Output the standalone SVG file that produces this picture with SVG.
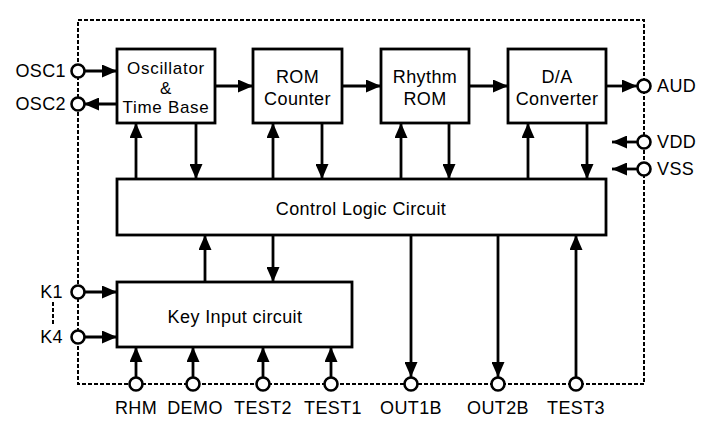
<svg xmlns="http://www.w3.org/2000/svg" width="705" height="423" viewBox="0 0 705 423">
<style>
.box{fill:#fff;stroke:#000;stroke-width:2.8}
.pin{fill:#fff;stroke:#000;stroke-width:2.6}
.wire{fill:none;stroke:#000;stroke-width:2.8}
.dash{fill:none;stroke:#000;stroke-width:2;stroke-dasharray:4 2}
text{font-family:"Liberation Sans",Arial,sans-serif;font-size:18px;fill:#000;letter-spacing:0.4px}
.s{font-size:17px;letter-spacing:0.7px}
.c{text-anchor:middle}
.e{text-anchor:end}
</style>
<defs>
<marker id="ah" markerUnits="userSpaceOnUse" markerWidth="15" markerHeight="13" refX="15" refY="6.5" orient="auto" viewBox="0 0 15 13">
<path d="M0,0 L15,6.5 L0,13 z" fill="#000"/>
</marker>
</defs>
<rect width="705" height="423" fill="#fff"/>
<g id="border">
<rect class="dash" x="78" y="20" width="566" height="364"/>
<line class="dash" x1="53" y1="302" x2="53" y2="326"/>
</g>
<g id="connectors">
<line class="wire" x1="84" y1="71" x2="117" y2="71" marker-end="url(#ah)"/>
<line class="wire" x1="117" y1="104" x2="84" y2="104" marker-end="url(#ah)"/>
<line class="wire" x1="215" y1="86" x2="253" y2="86" marker-end="url(#ah)"/>
<line class="wire" x1="342" y1="86" x2="381" y2="86" marker-end="url(#ah)"/>
<line class="wire" x1="469" y1="86" x2="508" y2="86" marker-end="url(#ah)"/>
<line class="wire" x1="606" y1="86" x2="637" y2="86" marker-end="url(#ah)"/>
<line class="wire" x1="637" y1="142" x2="612" y2="142" marker-end="url(#ah)"/>
<line class="wire" x1="637" y1="169" x2="612" y2="169" marker-end="url(#ah)"/>
<line class="wire" x1="136" y1="179" x2="136" y2="123" marker-end="url(#ah)"/>
<line class="wire" x1="196" y1="123" x2="196" y2="179" marker-end="url(#ah)"/>
<line class="wire" x1="273" y1="179" x2="273" y2="123" marker-end="url(#ah)"/>
<line class="wire" x1="322" y1="123" x2="322" y2="179" marker-end="url(#ah)"/>
<line class="wire" x1="401" y1="179" x2="401" y2="123" marker-end="url(#ah)"/>
<line class="wire" x1="449" y1="123" x2="449" y2="179" marker-end="url(#ah)"/>
<line class="wire" x1="528" y1="179" x2="528" y2="123" marker-end="url(#ah)"/>
<line class="wire" x1="587" y1="123" x2="587" y2="179" marker-end="url(#ah)"/>
<line class="wire" x1="205" y1="282" x2="205" y2="235" marker-end="url(#ah)"/>
<line class="wire" x1="273" y1="235" x2="273" y2="282" marker-end="url(#ah)"/>
<line class="wire" x1="411" y1="235" x2="411" y2="377" marker-end="url(#ah)"/>
<line class="wire" x1="498" y1="235" x2="498" y2="377" marker-end="url(#ah)"/>
<line class="wire" x1="576" y1="377" x2="576" y2="235" marker-end="url(#ah)"/>
<line class="wire" x1="84" y1="292" x2="117" y2="292" marker-end="url(#ah)"/>
<line class="wire" x1="84" y1="337" x2="117" y2="337" marker-end="url(#ah)"/>
<line class="wire" x1="136" y1="377" x2="136" y2="347" marker-end="url(#ah)"/>
<line class="wire" x1="193" y1="377" x2="193" y2="347" marker-end="url(#ah)"/>
<line class="wire" x1="263" y1="377" x2="263" y2="347" marker-end="url(#ah)"/>
<line class="wire" x1="331" y1="377" x2="331" y2="347" marker-end="url(#ah)"/>
</g>
<g id="osc">
<rect class="box" x="117" y="49" width="98" height="74"/>
<text class="c s" x="166" y="74">Oscillator</text>
<text class="c s" x="166" y="93.5">&amp;</text>
<text class="c s" x="166" y="113">Time Base</text>
</g>
<g id="romcounter">
<rect class="box" x="253" y="49" width="89" height="74"/>
<text class="c" x="297.5" y="83">ROM</text>
<text class="c" x="297.5" y="105">Counter</text>
</g>
<g id="rhythmrom">
<rect class="box" x="381" y="49" width="88" height="74"/>
<text class="c" x="425" y="83">Rhythm</text>
<text class="c" x="425" y="105">ROM</text>
</g>
<g id="dac">
<rect class="box" x="508" y="49" width="98" height="74"/>
<text class="c" x="557" y="83">D/A</text>
<text class="c" x="557" y="105">Converter</text>
</g>
<g id="control">
<rect class="box" x="117" y="179" width="489" height="56"/>
<text class="c" x="361" y="215">Control Logic Circuit</text>
</g>
<g id="keyinput">
<rect class="box" x="117" y="282" width="235" height="65"/>
<text class="c" x="235" y="323">Key Input circuit</text>
</g>
<g id="pin-osc1"><circle class="pin" cx="78" cy="71" r="6.5"/><text class="e" x="66" y="77">OSC1</text></g>
<g id="pin-osc2"><circle class="pin" cx="78" cy="104" r="6.5"/><text class="e" x="66" y="110">OSC2</text></g>
<g id="pin-aud"><circle class="pin" cx="644" cy="86" r="6.5"/><text x="657" y="92">AUD</text></g>
<g id="pin-vdd"><circle class="pin" cx="644" cy="142" r="6.5"/><text x="657" y="148">VDD</text></g>
<g id="pin-vss"><circle class="pin" cx="644" cy="169" r="6.5"/><text x="657" y="175">VSS</text></g>
<g id="pin-k1"><circle class="pin" cx="78" cy="292" r="6.5"/><text class="e" x="63" y="298">K1</text></g>
<g id="pin-k4"><circle class="pin" cx="78" cy="337" r="6.5"/><text class="e" x="63" y="343">K4</text></g>
<g id="pin-rhm"><circle class="pin" cx="136" cy="384" r="6.5"/><text class="c" x="136" y="414">RHM</text></g>
<g id="pin-demo"><circle class="pin" cx="193" cy="384" r="6.5"/><text class="c" x="195" y="414">DEMO</text></g>
<g id="pin-test2"><circle class="pin" cx="263" cy="384" r="6.5"/><text class="c" x="263" y="414">TEST2</text></g>
<g id="pin-test1"><circle class="pin" cx="331" cy="384" r="6.5"/><text class="c" x="333" y="414">TEST1</text></g>
<g id="pin-out1b"><circle class="pin" cx="411" cy="384" r="6.5"/><text class="c" x="411" y="414">OUT1B</text></g>
<g id="pin-out2b"><circle class="pin" cx="498" cy="384" r="6.5"/><text class="c" x="498" y="414">OUT2B</text></g>
<g id="pin-test3"><circle class="pin" cx="576" cy="384" r="6.5"/><text class="c" x="576" y="414">TEST3</text></g>
</svg>
